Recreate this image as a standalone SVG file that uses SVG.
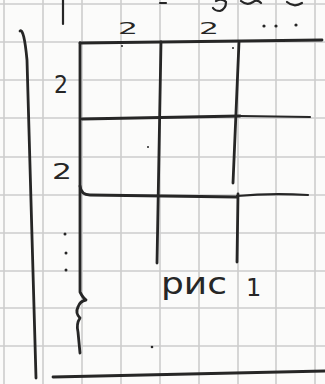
<svg xmlns="http://www.w3.org/2000/svg" width="325" height="384" viewBox="0 0 325 384">
  <style>
    .grid { stroke: #cdcdcd; stroke-width: 1.6; fill: none; }
    .ink { stroke: #262626; stroke-width: 2.8; fill: none; stroke-linecap: round; stroke-linejoin: round; }
    .thin { stroke-width: 2.2; }
    .lbl { font-family: "DejaVu Sans", "Liberation Sans", sans-serif; fill: #262626; }
  </style>
  <rect width="325" height="384" fill="#fbfbfa"/>
  <g id="grid" class="grid">
    <path d="M4,0V384 M43,0V384 M82,0V384 M121,0V384 M160,0V384 M199,0V384 M238,0V384 M276,0V384 M315,0V384"/>
    <path d="M0,4H325 M0,42H325 M0,80H325 M0,118H325 M0,157H325 M0,195H325 M0,233H325 M0,271H325 M0,308H325 M0,346H325"/>
  </g>
  <g id="top-fragments" class="ink thin">
    <path d="M63,0 L63,24"/>
    <path d="M160,3 L166,3"/>
    <path d="M216,1 Q222,-2 226,2 Q226,9 220,11 Q215,11 213,8"/>
    <path d="M241,1 Q247,6 253,2 Q257,-1 261,3"/>
    <path d="M287,2 Q294,8 302,3"/>
  </g>
  <g id="frame" class="ink">
    <path d="M20,31 Q24,28 27,60 L36,378"/>
    <path d="M53,377 L325,371"/>
  </g>
  <g id="connectors" class="ink">
    <path d="M80,43 L322,40"/>
    <path d="M80,43 L80,292 Q83,298 86,300 Q80,301 78,307 Q75,313 80,318 Q76,324 78,332 L80,353"/>
    <path d="M161,42 L157,263"/>
    <path d="M239,42 L233,183"/>
    <path d="M238,194 L237,262"/>
    <path d="M82,119 L240,116"/>
    <path d="M240,116 L310,117" class="thin"/>
    <path d="M80,186 Q81,195 90,195 L237,197"/>
    <path d="M237,196 Q270,193 308,195" class="thin"/>
  </g>
  <g id="labels" class="lbl">
    <text x="118" y="34" font-size="15" textLength="20" lengthAdjust="spacingAndGlyphs">2</text>
    <text x="199" y="34" font-size="15" textLength="20" lengthAdjust="spacingAndGlyphs">2</text>
    <text x="54" y="93" font-size="25" textLength="14" lengthAdjust="spacingAndGlyphs">2</text>
    <text x="52" y="179" font-size="21" textLength="20" lengthAdjust="spacingAndGlyphs">2</text>
    <circle cx="264" cy="26" r="1.6"/>
    <circle cx="276" cy="26" r="1.6"/>
    <circle cx="296" cy="25" r="1.6"/>
    <circle cx="65" cy="234" r="1.5"/>
    <circle cx="66" cy="253" r="1.5"/>
    <circle cx="66" cy="270" r="1.5"/>
    <text x="161" y="294" font-size="30" textLength="66" lengthAdjust="spacingAndGlyphs">рис</text>
    <text x="246" y="296" font-size="24">1</text>
    <circle cx="152" cy="347" r="1.3"/>
    <circle cx="122" cy="46" r="1"/>
    <circle cx="233" cy="48" r="1"/>
    <circle cx="148" cy="147" r="1"/>
  </g>
</svg>
